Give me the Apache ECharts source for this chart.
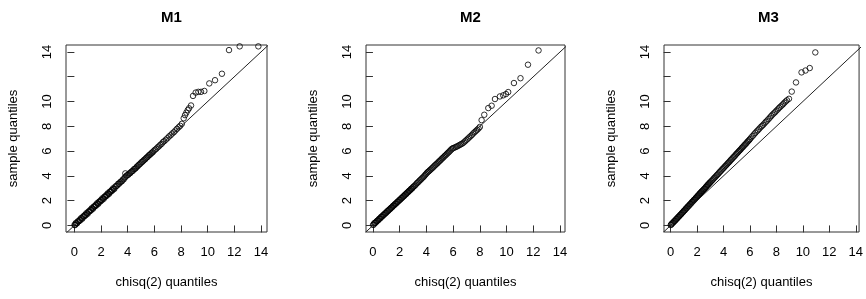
<!DOCTYPE html>
<html>
<head>
<meta charset="utf-8">
<script src="https://cdn.jsdelivr.net/npm/echarts@6/dist/echarts.min.js"></script>
<style>
html,body{margin:0;padding:0;background:#fff;}
#c{width:866px;height:299px;}
</style>
</head>
<body>
<div id="c"></div>
<script>
// ---- data ----
const titles = ['M1', 'M2', 'M3'];
const xAxisName = 'chisq(2) quantiles';
const yAxisName = 'sample quantiles';
const xTicks = [0, 2, 4, 6, 8, 10, 12, 14];
const yTicks = [0, 2, 4, 6, 8, 10, 12, 14];
const yTickLabels = ['0', '2', '4', '6', '8', '10', '', '14'];

const m1x = [0.01,0.05,0.10,0.15,0.20,0.25,0.30,0.35,0.40,0.45,0.50,0.55,0.60,0.65,0.70,0.75,0.80,0.85,0.90,0.95,1.00,1.05,1.10,1.15,1.20,1.25,1.30,1.35,1.40,1.45,1.50,1.55,1.60,1.65,1.70,1.75,1.80,1.85,1.90,1.95,2.00,2.05,2.10,2.15,2.20,2.25,2.30,2.35,2.40,2.45,2.50,2.55,2.60,2.65,2.70,2.75,2.80,2.85,2.90,2.95,3.00,
  3.07,3.14,3.21,3.28,3.35,3.42,3.49,3.56,3.63,3.70,3.77,3.82,3.84,3.91,3.98,4.05,4.12,4.19,4.26,4.33,4.40,4.47,4.54,4.61,4.68,4.75,4.82,4.89,4.96,5.03,5.10,5.17,5.24,5.31,5.38,5.45,5.52,5.59,5.66,5.73,5.80,5.87,5.94,
  6.04,6.14,6.24,6.34,6.44,6.54,6.64,6.74,6.86,6.98,7.10,7.22,7.34,7.46,7.58,7.70,7.82,7.94,8.06,
  8.20,8.30,8.40,8.50,8.60,8.75,8.90,9.10,9.30,9.50,9.75,10.12,10.55,11.07,11.60,12.40,13.80];
const m1y = [0.04,0.03,0.19,0.16,0.17,0.32,0.33,0.34,0.46,0.42,0.59,0.56,0.55,0.72,0.73,0.74,0.86,0.82,0.99,0.96,0.95,1.12,1.13,1.14,1.26,1.22,1.39,1.36,1.35,1.52,1.53,1.54,1.66,1.62,1.79,1.76,1.75,1.92,1.93,1.94,2.06,2.02,2.19,2.16,2.15,2.32,2.33,2.34,2.46,2.42,2.59,2.56,2.55,2.72,2.73,2.74,2.86,2.82,2.99,2.96,2.95,
  3.14,3.18,3.22,3.36,3.36,3.47,3.54,3.56,3.70,3.72,3.86,4.20,3.92,4.02,4.06,4.10,4.20,4.22,4.32,4.38,4.42,4.54,4.56,4.63,4.74,4.78,4.88,4.94,5.00,5.10,5.14,5.22,5.30,5.34,5.44,5.50,5.56,5.66,5.70,5.78,5.86,5.90,6.00,
  6.10,6.18,6.30,6.38,6.50,6.58,6.72,6.80,6.92,7.04,7.18,7.28,7.42,7.52,7.66,7.80,7.92,8.04,8.20,
  8.65,8.90,9.10,9.30,9.45,9.68,10.45,10.72,10.78,10.78,10.85,11.46,11.72,12.24,14.15,14.45,14.45];

const m2x = [0.01,0.05,0.10,0.15,0.20,0.25,0.30,0.35,0.40,0.45,0.50,0.55,0.60,0.65,0.70,0.75,0.80,0.85,0.90,0.95,1.00,1.05,1.10,1.15,1.20,1.25,1.30,1.35,1.40,1.45,1.50,1.55,1.60,1.65,1.70,1.75,1.80,1.85,1.90,1.95,2.00,2.05,2.10,2.15,2.20,2.25,2.30,2.35,2.40,2.45,2.50,2.55,2.60,2.65,2.70,2.75,2.80,2.85,2.90,2.95,3.00,
  3.07,3.14,3.21,3.28,3.35,3.42,3.49,3.56,3.63,3.70,3.77,3.84,3.91,3.98,4.05,4.12,4.19,4.26,4.33,4.40,4.47,4.54,4.61,4.68,4.75,4.82,4.89,4.96,5.03,5.10,5.17,5.24,5.31,5.38,5.45,5.52,5.59,5.66,5.73,5.80,5.87,5.94,6.00,
  6.10,6.20,6.30,6.40,6.50,6.60,6.70,6.80,6.90,7.00,7.10,7.20,7.30,7.40,7.50,7.60,7.70,7.80,7.90,8.00,
  8.13,8.33,8.63,8.88,9.13,9.50,9.75,9.95,10.12,10.55,11.04,11.60,12.39];
const m2y = [0.05,0.06,0.18,0.20,0.22,0.30,0.36,0.38,0.43,0.52,0.54,0.58,0.68,0.69,0.74,0.82,0.84,0.90,0.97,0.99,1.04,1.13,1.14,1.20,1.27,1.29,1.35,1.42,1.44,1.50,1.58,1.60,1.65,1.73,1.74,1.80,1.88,1.90,1.95,2.03,2.05,2.10,2.18,2.20,2.26,2.33,2.35,2.41,2.49,2.50,2.56,2.64,2.66,2.72,2.79,2.81,2.87,2.95,2.96,3.02,3.10,
  3.16,3.22,3.30,3.40,3.46,3.53,3.62,3.68,3.76,3.84,3.90,3.99,4.08,4.16,4.26,4.32,4.38,4.46,4.52,4.60,4.66,4.74,4.82,4.88,4.96,5.02,5.10,5.18,5.24,5.32,5.40,5.46,5.54,5.62,5.68,5.76,5.84,5.90,5.98,6.06,6.14,6.20,6.24,
  6.28,6.33,6.38,6.44,6.50,6.56,6.62,6.70,6.80,6.90,7.00,7.10,7.20,7.30,7.42,7.52,7.62,7.72,7.82,7.95,
  8.50,8.93,9.47,9.66,10.20,10.41,10.50,10.60,10.76,11.49,11.88,12.97,14.12];

const m3x = [0.01,0.05,0.10,0.15,0.20,0.25,0.30,0.35,0.40,0.45,0.50,0.55,0.60,0.65,0.70,0.75,0.80,0.85,0.90,0.95,1.00,1.05,1.10,1.15,1.20,1.25,1.30,1.35,1.40,1.45,1.50,1.55,1.60,1.65,1.70,1.75,1.80,1.85,1.90,1.95,2.00,2.05,2.10,2.15,2.20,2.25,2.30,2.35,2.40,2.45,2.50,2.55,2.60,2.65,2.70,2.75,2.80,2.85,2.90,2.95,3.00,
  3.07,3.14,3.21,3.28,3.35,3.42,3.49,3.56,3.63,3.70,3.77,3.84,3.91,3.98,4.05,4.12,4.19,4.26,4.33,4.40,4.47,4.54,4.61,4.68,4.75,4.82,4.89,4.96,5.03,5.10,5.17,5.24,5.31,5.38,5.45,5.52,5.59,5.66,5.73,5.80,5.87,5.94,6.00,
  6.10,6.20,6.30,6.40,6.50,6.60,6.70,6.80,6.90,7.00,7.10,7.20,7.30,7.40,7.50,7.60,7.70,7.80,7.90,8.00,8.10,8.20,8.30,8.40,8.50,8.60,8.70,8.80,8.95,
  9.16,9.48,9.90,10.20,10.52,10.94];
const m3y = [0.03,0.08,0.14,0.20,0.24,0.31,0.36,0.40,0.48,0.52,0.58,0.65,0.69,0.75,0.82,0.86,0.92,0.99,1.04,1.10,1.17,1.21,1.27,1.35,1.39,1.45,1.52,1.56,1.62,1.69,1.73,1.79,1.87,1.91,1.97,2.04,2.08,2.14,2.21,2.26,2.32,2.39,2.43,2.50,2.57,2.61,2.68,2.74,2.78,2.84,2.90,2.95,3.00,3.08,3.13,3.20,3.27,3.31,3.37,3.44,3.48,
  3.57,3.64,3.72,3.81,3.88,3.96,4.05,4.12,4.20,4.30,4.37,4.45,4.54,4.61,4.69,4.78,4.85,4.93,5.02,5.09,5.17,5.27,5.34,5.42,5.51,5.58,5.66,5.76,5.83,5.91,6.00,6.07,6.15,6.25,6.32,6.40,6.49,6.56,6.64,6.74,6.81,6.89,6.97,
  7.10,7.22,7.34,7.46,7.58,7.68,7.80,7.92,8.02,8.12,8.24,8.36,8.46,8.58,8.70,8.82,8.94,9.04,9.14,9.26,9.36,9.48,9.58,9.68,9.78,9.90,10.00,10.10,10.22,
  10.80,11.54,12.35,12.50,12.70,13.96];

const refLine = [-2, 16]; // y = x reference line ends

// ---- layout ----
const font = 'Liberation Sans, Arial, sans-serif';
const panels = [
  { left: 66,  width: 201, xmin: -0.63, xmax: 14.45, xs: m1x, ys: m1y },
  { left: 366, width: 199, xmin: -0.52, xmax: 14.37, xs: m2x, ys: m2y },
  { left: 664, width: 199, xmin: -0.50, xmax: 14.25, xs: m3x, ys: m3y }
];
const gridTop = 45, gridHeight = 187;
const yMin = -0.53, yMax = 14.56;

const option = {
  animation: false,
  backgroundColor: '#fff',
  title: [],
  grid: [],
  xAxis: [],
  yAxis: [],
  series: []
};

panels.forEach((p, i) => {
  option.title.push({
    text: titles[i],
    left: p.left + p.width / 2,
    textAlign: 'center',
    top: 5,
    textStyle: { fontFamily: font, fontWeight: 'bold', fontSize: 15, color: '#000' }
  });
  option.grid.push({
    left: p.left, top: gridTop, width: p.width, height: gridHeight,
    show: true, borderColor: '#333', borderWidth: 1, backgroundColor: 'transparent',
    containLabel: false
  });
  option.xAxis.push({
    gridIndex: i, type: 'value', min: p.xmin, max: p.xmax,
    axisLine: { show: false },
    axisTick: { show: true, length: 7, customValues: xTicks, lineStyle: { color: '#333', width: 1 } },
    axisLabel: { show: true, customValues: xTicks, margin: 14, fontSize: 13, fontFamily: font, color: '#000' },
    splitLine: { show: false },
    name: xAxisName, nameLocation: 'middle', nameGap: 44,
    nameTextStyle: { fontSize: 13, fontFamily: font, color: '#000' }
  });
  option.yAxis.push({
    gridIndex: i, type: 'value', min: yMin, max: yMax,
    axisLine: { show: false },
    axisTick: { show: true, length: 7, customValues: yTicks, lineStyle: { color: '#333', width: 1 } },
    axisLabel: {
      show: true, customValues: yTicks, rotate: 90, margin: 12, fontSize: 13, fontFamily: font, color: '#000',
      formatter: v => yTickLabels[yTicks.indexOf(Math.round(v))]
    },
    splitLine: { show: false },
    name: yAxisName, nameLocation: 'middle', nameGap: 46, nameRotate: 90,
    nameTextStyle: { fontSize: 13, fontFamily: font, color: '#000' }
  });
  option.series.push({
    type: 'scatter', xAxisIndex: i, yAxisIndex: i,
    data: p.xs.map((x, k) => [x, p.ys[k]]),
    symbol: 'circle', symbolSize: 5.5,
    itemStyle: { color: 'rgba(0,0,0,0)', borderColor: '#000', borderWidth: 1 },
    clip: false, silent: true
  });
  option.series.push({
    type: 'line', xAxisIndex: i, yAxisIndex: i,
    data: [[refLine[0], refLine[0]], [refLine[1], refLine[1]]],
    showSymbol: false, symbol: 'none', clip: true, silent: true,
    lineStyle: { color: '#222', width: 1 }
  });
});

const chart = echarts.init(document.getElementById('c'), null, { renderer: 'canvas' });
chart.setOption(option);
</script>
</body>
</html>
